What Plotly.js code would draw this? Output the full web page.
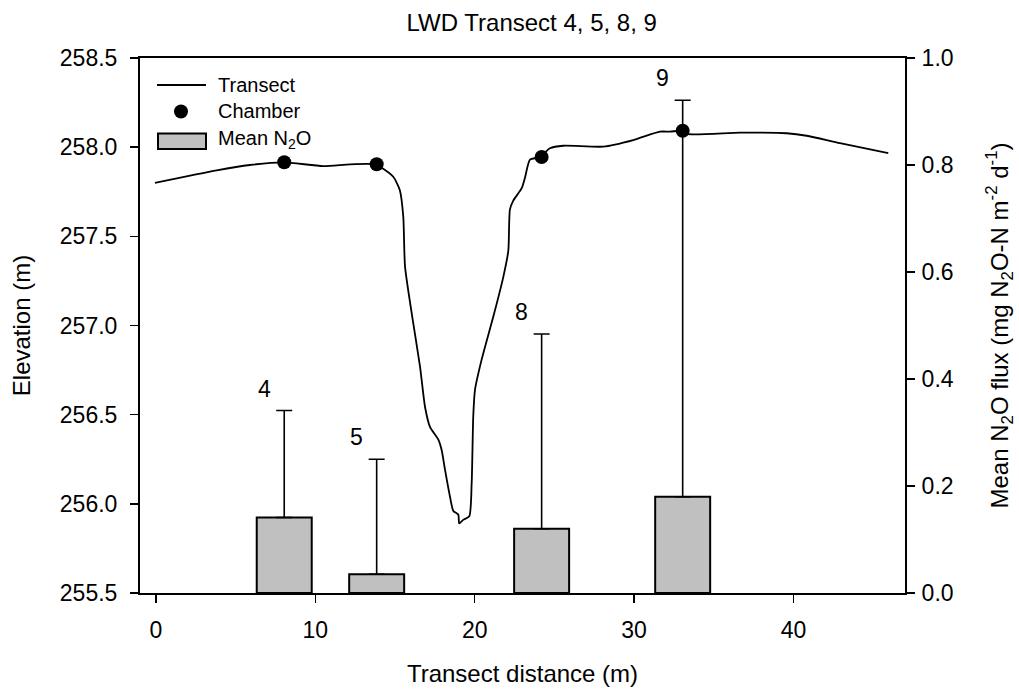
<!DOCTYPE html>
<html>
<head>
<meta charset="utf-8">
<script src="https://cdn.plot.ly/plotly-3.0.1.min.js"></script>
<style>html,body{margin:0;padding:0;background:#fff;}#chart{width:1019px;height:692px;}</style>
</head>
<body>
<div id="chart"></div>
<script>
// Transect profile (distance m, elevation m)
const transectX = [-0.06, 3.81, 5.90, 7.99, 10.5, 12.18, 13.75, 14.06, 14.89, 15.30, 15.52, 15.63, 16.15, 16.57, 16.89, 17.20, 17.72, 17.93, 18.14, 18.45, 18.66, 18.97, 19.03, 19.28, 19.66, 19.81, 19.91, 20.02, 20.44, 21.17, 21.79, 22.11, 22.21, 22.42, 22.95, 23.16, 23.47, 24.10, 24.72, 25.56, 28.07, 29.95, 31.62, 32.25, 33.05, 33.30, 36.65, 39.57, 40.83, 42.92, 45.95];
const transectElev = [257.80, 257.87, 257.90, 257.915, 257.894, 257.904, 257.904, 257.89, 257.834, 257.76, 257.61, 257.33, 257.01, 256.77, 256.54, 256.43, 256.36, 256.30, 256.19, 256.04, 255.96, 255.94, 255.89, 255.91, 255.93, 256.115, 256.49, 256.64, 256.81, 257.05, 257.27, 257.42, 257.65, 257.70, 257.77, 257.83, 257.93, 257.945, 257.994, 258.008, 258.003, 258.04, 258.087, 258.087, 258.092, 258.074, 258.081, 258.078, 258.064, 258.022, 257.966];

// Chamber locations
const chamberLabels = ["4", "5", "8", "9"];
const chamberX = [8.05, 13.85, 24.2, 33.05];
const chamberElev = [257.915, 257.904, 257.945, 258.092];

// Mean N2O flux (mg N2O-N m-2 d-1) and upper error
const meanN2O = [0.141, 0.035, 0.12, 0.18];
const errUp = [0.20, 0.215, 0.364, 0.741];
const barWidth = 3.45;

const xTicks = [0, 10, 20, 30, 40];

const FONT = 'Liberation Sans, Arial, sans-serif';

const traces = [
  {
    type: 'bar', x: chamberX, y: meanN2O, width: barWidth, yaxis: 'y2', xaxis: 'x',
    marker: {color: '#c0c0c0', line: {color: '#000', width: 2}},
    error_y: {type: 'data', symmetric: false, array: errUp, arrayminus: chamberX.map(() => 0),
              color: '#000', thickness: 1.6, width: 8},
    showlegend: false, hoverinfo: 'skip'
  },
  {
    type: 'scatter', mode: 'lines', x: transectX, y: transectElev,
    line: {color: '#000', width: 1.8, shape: 'spline', smoothing: 0.6},
    showlegend: false
  },
  {
    type: 'scatter', mode: 'markers', x: chamberX, y: chamberElev,
    marker: {color: '#000', size: 14},
    showlegend: false
  }
];

const annotations = chamberLabels.map((t, i) => ({
  x: chamberX[i], y: meanN2O[i] + errUp[i], xref: 'x', yref: 'y2',
  text: t, showarrow: false, xshift: -20, yshift: 22,
  font: {family: FONT, size: 23, color: '#000'}
}));

function px2x(px) { return (px - 140) / 765; }
function py2y(py) { return (593 - py) / 535; }

// legend text
const legendTexts = ['Transect', 'Chamber', 'Mean N<sub>2</sub>O'];
const legendY = [85, 111.5, 140];
legendTexts.forEach((t, i) => annotations.push({
  x: px2x(216), y: py2y(legendY[i]), xref: 'paper', yref: 'paper',
  xanchor: 'left', yanchor: 'middle', text: t, showarrow: false,
  font: {family: FONT, size: 20, color: '#000'}
}));

const shapes = [
  {type: 'line', xref: 'paper', yref: 'paper', x0: px2x(157), x1: px2x(206), y0: py2y(85), y1: py2y(85),
   line: {color: '#000', width: 1.8}},
  {type: 'circle', xref: 'paper', yref: 'paper', x0: px2x(174), x1: px2x(188), y0: py2y(118.5), y1: py2y(104.5),
   fillcolor: '#000', line: {color: '#000', width: 0}},
  {type: 'rect', xref: 'paper', yref: 'paper', x0: px2x(158), x1: px2x(206), y0: py2y(149), y1: py2y(133.5),
   fillcolor: '#c0c0c0', line: {color: '#000', width: 2}}
];

const tickFont = {family: FONT, size: 23, color: '#000'};
const titleFont = {family: FONT, size: 24, color: '#000'};

const layout = {
  width: 1019, height: 692,
  margin: {l: 140, r: 114, t: 58, b: 99},
  paper_bgcolor: '#fff', plot_bgcolor: '#fff',
  font: {family: FONT, color: '#000'},
  title: {text: 'LWD Transect 4, 5, 8, 9', font: {family: FONT, size: 24, color: '#000'},
          x: 531.7 / 1019, xref: 'container', xanchor: 'center', y: 1 - 23 / 692, yref: 'container', yanchor: 'middle'},
  xaxis: {
    range: [-1, 47], tickvals: xTicks, ticktext: xTicks.map(String),
    showgrid: false, zeroline: false, showline: true, linecolor: '#000', linewidth: 2,
    mirror: true, ticks: 'outside', ticklen: 8, tickwidth: 1.5, tickcolor: '#000',
    tickfont: tickFont, ticklabelstandoff: 7,
    title: {text: 'Transect distance (m)', font: titleFont, standoff: 24}
  },
  yaxis: {
    range: [255.5, 258.5], dtick: 0.5, tick0: 255.5, tickformat: '.1f',
    showgrid: false, zeroline: false, showline: true, linecolor: '#000', linewidth: 2,
    ticks: 'outside', ticklen: 8, tickwidth: 1.5, tickcolor: '#000',
    tickfont: tickFont, ticklabelstandoff: 8,
    title: {text: 'Elevation (m)', font: titleFont, standoff: 22}
  },
  yaxis2: {
    range: [0, 1], dtick: 0.2, tick0: 0, tickformat: '.1f', overlaying: 'y', side: 'right',
    showgrid: false, zeroline: false, showline: true, linecolor: '#000', linewidth: 2,
    ticks: 'outside', ticklen: 8, tickwidth: 1.5, tickcolor: '#000',
    tickfont: tickFont, ticklabelstandoff: 2,
    title: {text: 'Mean N<sub>2</sub>O flux (mg N<sub>2</sub>O-N m<sup>-2</sup> d<sup>-1</sup>)', font: titleFont, standoff: 38}
  },
  showlegend: false,
  annotations: annotations,
  shapes: shapes,
  bargap: 0
};

Plotly.newPlot('chart', traces, layout, {displayModeBar: false, staticPlot: true});
</script>
</body>
</html>
